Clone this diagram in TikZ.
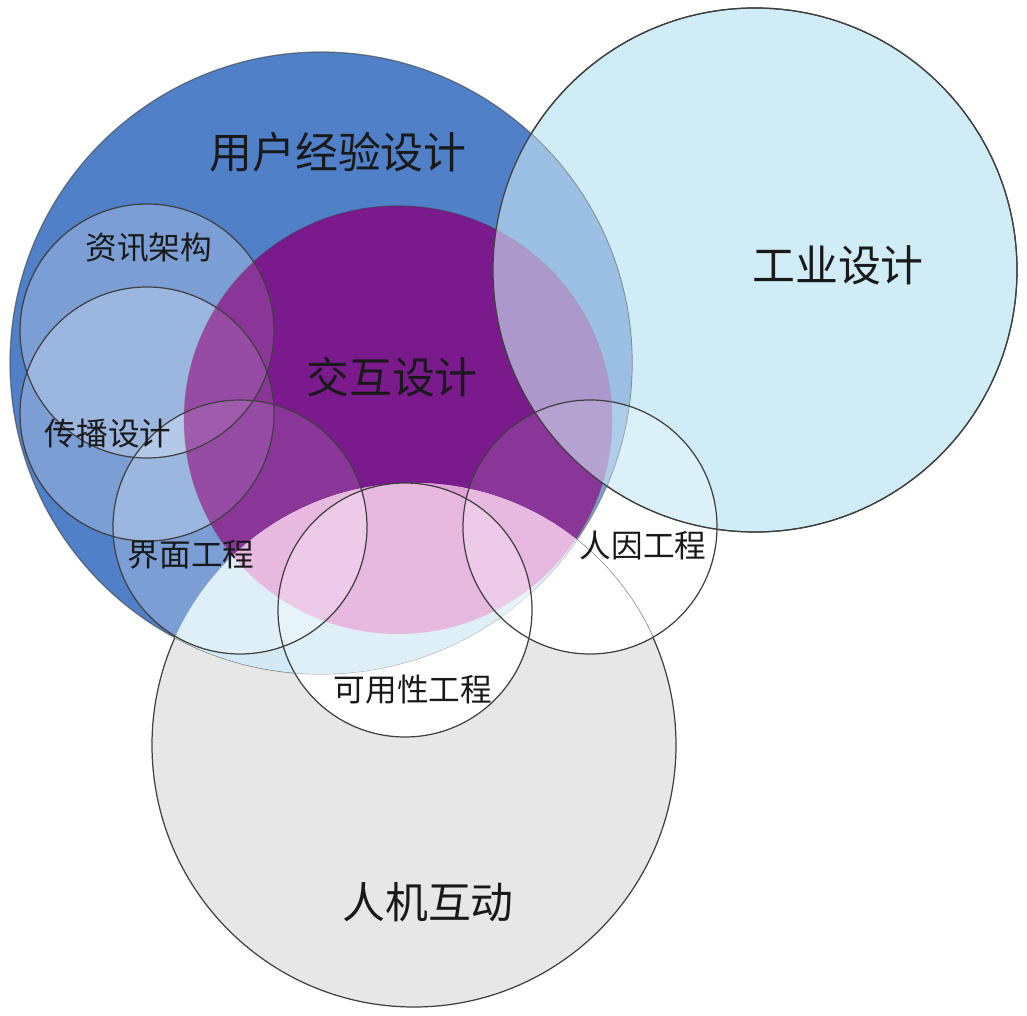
\documentclass[tikz,border=0pt]{standalone}
\usepackage{fontspec}
\newfontfamily\cjk{Noto Sans CJK SC}
\usetikzlibrary{positioning}
\definecolor{uxblue}{HTML}{5080C8}
\definecolor{ixdpurple}{HTML}{7A1A8C}
\definecolor{idcyan}{HTML}{D0ECF6}
\definecolor{hcigrey}{HTML}{E7E7E7}
\definecolor{hcicyan}{HTML}{D3EAF6}
\definecolor{hcipink}{HTML}{DFA2D5}

\begin{document}
\begin{tikzpicture}[x=0.01cm,y=-0.01cm,
  ring/.style={draw=black!75,line width=0.35pt},
  veil/.style={fill=white,fill opacity=0.25},
  bigtext/.style={font=\cjk\fontsize{12.2pt}{14pt}\selectfont,text=black!90},
  smalltext/.style={font=\cjk\fontsize{9pt}{11pt}\selectfont,text=black!90}]
\useasboundingbox (0,0) rectangle (1027,1016);
% centres of the circles
\coordinate (ux) at (321,363);
\coordinate (ixd) at (398,420);
\coordinate (id) at (755,270);
\coordinate (hci) at (414,745);
\coordinate (ia) at (147,331);
\coordinate (cd) at (147,414);
\coordinate (ie) at (240,527);
\coordinate (ue) at (405,610);
\coordinate (hf) at (590,527);
% big circles
\filldraw[fill=idcyan,ring] (id) circle (262);
\filldraw[fill=hcigrey,ring] (hci) circle (262);
\begin{scope}
  \clip (hci) circle (262);
  \foreach \c in {ie,ue,hf} \fill[white] (\c) circle (127);
\end{scope}
\filldraw[fill=uxblue,ring,draw opacity=0.6] (ux) circle (311);
\filldraw[fill=ixdpurple,ring,draw opacity=0.6] (ixd) circle (214);
% small circles lighten what lies below
\foreach \c in {ia,cd,ie,ue,hf} \fill[veil] (\c) circle (127);
\fill[ixdpurple,fill opacity=0.5] (ixd) circle (214);
\begin{scope}
  \clip (hci) circle (262);
  \fill[hcicyan] (ux) circle (311);
  \fill[hcipink] (ixd) circle (214);
  \foreach \c in {ie,ue,hf} \fill[veil] (\c) circle (127);
\end{scope}
\begin{scope}
  \clip (id) circle (262);
  \fill[idcyan,fill opacity=0.6] (ux) circle (311);
\end{scope}
\draw[ring] (id) circle (262);
\foreach \c in {ia,cd,ie,ue,hf} \draw[ring] (\c) circle (127);
% labels
\node[bigtext] (uxlab) at (338,152) {用户经验设计};
\node[bigtext] (idlab) at (838,265) {工业设计};
\node[bigtext] (ixdlab) at (392,377) {交互设计};
\node[bigtext] (hcilab) at (428,902) {人机互动};
\node[smalltext] (ialab) at (149,248) {资讯架构};
\node[smalltext] (cdlab) at (108,434) {传播设计};
\node[smalltext] (ielab) at (191,555) {界面工程};
\node[smalltext] (uelab) at (413,690) {可用性工程};
\node[smalltext] (hflab) at (643,546) {人因工程};
\end{tikzpicture}
\end{document}
